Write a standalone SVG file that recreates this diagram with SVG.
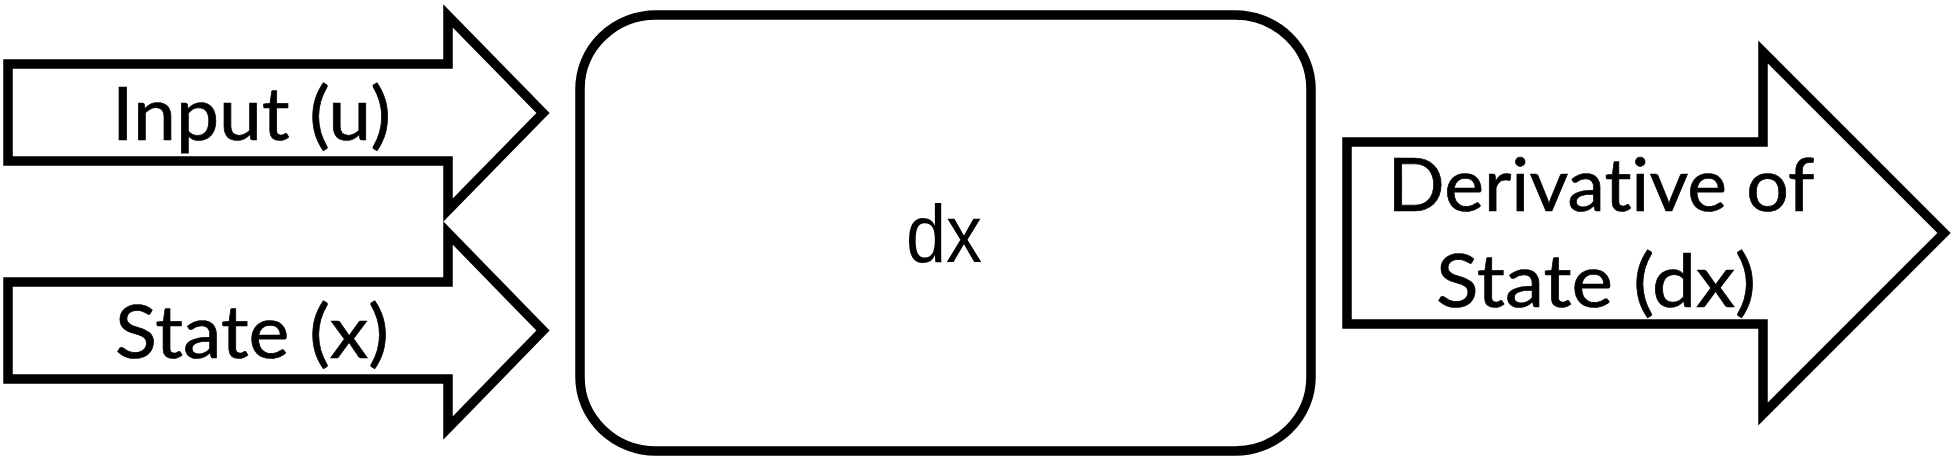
<svg xmlns="http://www.w3.org/2000/svg" width="1957" height="458" viewBox="0 0 1957 458">
  <style>
    .shape { fill: #ffffff; stroke: #000000; stroke-width: 9.5; stroke-linejoin: miter; stroke-miterlimit: 10; }
    .label { font-family: Lato, "Open Sans", "Liberation Sans", sans-serif; font-size: 73px; fill: #000000; stroke: #000000; stroke-width: 0.7; text-anchor: middle; font-variant-ligatures: none; font-feature-settings: "liga" 0, "clig" 0; }
    .big { font-family: "Liberation Sans", Arial, sans-serif; font-size: 82px; stroke-width: 0; }
  </style>
  <rect x="0" y="0" width="1957" height="458" fill="#ffffff"/>
  <g id="connectors">
    <g id="input-arrow">
      <path class="shape" d="M 8,64 H 448 V 16 L 543,113 L 448,210 V 161 H 8 Z"/>
      <text class="label" x="251.5" y="140" textLength="279" lengthAdjust="spacingAndGlyphs">Input (u)</text>
    </g>
    <g id="state-arrow">
      <path class="shape" d="M 8,282 H 448 V 233 L 543,330.5 L 448,428 V 379 H 8 Z"/>
      <text class="label" x="252" y="358" textLength="274" lengthAdjust="spacingAndGlyphs">State (x)</text>
    </g>
    <g id="output-arrow">
      <path class="shape" d="M 1347,142 H 1763 V 52 L 1944,233 L 1763,414 V 324 H 1347 Z"/>
      <text class="label" x="1601" y="211" textLength="427" lengthAdjust="spacingAndGlyphs">Derivative of</text>
      <text class="label" x="1596" y="307" textLength="320" lengthAdjust="spacingAndGlyphs">State (dx)</text>
    </g>
  </g>
  <g id="dx-block">
    <rect class="shape" x="580" y="15" width="731" height="436" rx="76" ry="74" stroke-width="10"/>
    <text class="label big" x="944" y="262" textLength="76" lengthAdjust="spacingAndGlyphs">dx</text>
  </g>
</svg>
